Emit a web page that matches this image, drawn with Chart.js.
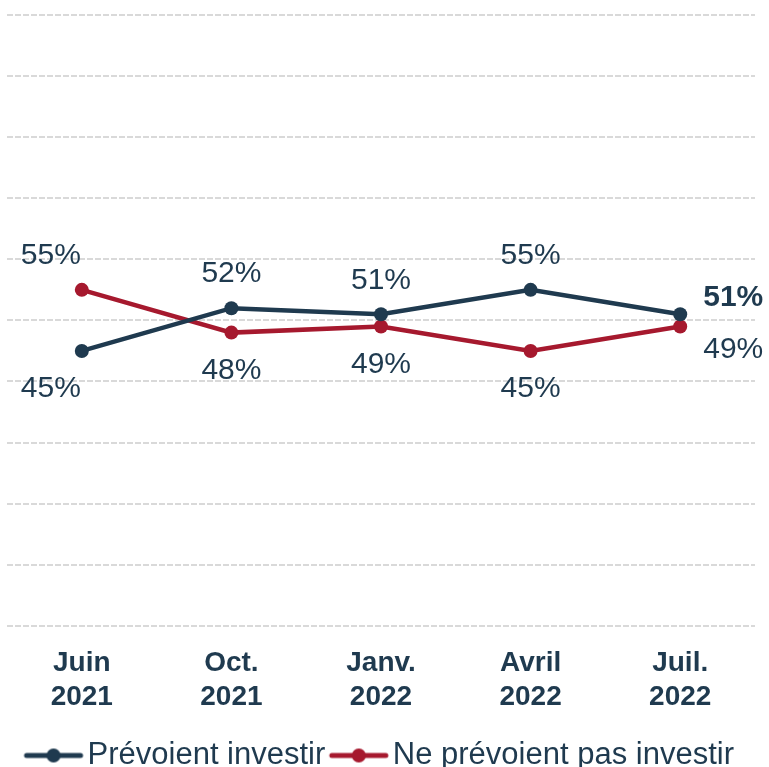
<!DOCTYPE html>
<html>
<head>
<meta charset="utf-8">
<script src="https://cdn.jsdelivr.net/npm/chart.js@4"></script>
<style>
  html, body { margin: 0; padding: 0; background: #fff; }
  #wrap { width: 769px; height: 767px; }
</style>
</head>
<body>
<div id="wrap"><canvas id="trend-chart"></canvas></div>
<script>
const months = ['Juin', 'Oct.', 'Janv.', 'Avril', 'Juil.'];
const years = ['2021', '2021', '2022', '2022', '2022'];
const investir = [45, 52, 51, 55, 51];
const pasInvestir = [55, 48, 49, 45, 49];

const NAVY = '#1f3a4f';
const RED = '#a6192e';
const FONT = '"Liberation Sans", Arial, sans-serif';

// "line with a dot" swatch for the legend; the left 12px stay transparent
// so the swatch sits right against its text
function legendSwatch(color) {
	var c = document.createElement('canvas');
	c.width = 71;
	c.height = 16;
	var g = c.getContext('2d');
	g.strokeStyle = color;
	g.lineWidth = 5;
	g.lineCap = 'round';
	g.beginPath();
	g.moveTo(13, 8);
	g.lineTo(67, 8);
	g.stroke();
	g.fillStyle = color;
	g.beginPath();
	g.arc(40, 8, 7, 0, Math.PI * 2);
	g.fill();
	return c;
}
var swatches = [legendSwatch(NAVY), legendSwatch(RED)];

var valueLabels = {
	id: 'valueLabels',
	afterDatasetsDraw: function(chart) {
		var ctx = chart.ctx;
		var last = months.length - 1;
		ctx.save();
		ctx.fillStyle = NAVY;
		ctx.textBaseline = 'middle';
		for (var i = 0; i <= last; i++) {
			[0, 1].forEach(function(d) {
				var pt = chart.getDatasetMeta(d).data[i];
				var v = chart.data.datasets[d].data[i];
				var other = chart.data.datasets[1 - d].data[i];
				var above = v >= other;
				var x = pt.x;
				var y = pt.y + (above ? -34 : 38);
				ctx.textAlign = 'center';
				if (i === 0) {
					ctx.textAlign = 'right';
					x = pt.x - 1;
				}
				if (i === last) {
					ctx.textAlign = 'left';
					x = pt.x + 23;
					y = pt.y + (above ? -17 : 23);
				}
				ctx.font = ((i === last && d === 0) ? 'bold ' : '') + '30px ' + FONT;
				ctx.fillText(v + '%', x, y);
			});
		}
		ctx.restore();
	}
};

var ctx = document.getElementById('trend-chart');
var trendChart = new Chart(ctx, {
	type: 'line',
	data: {
		labels: months.map(function(m, i) { return [m, years[i]]; }),
		datasets: [{
			label: 'Prévoient investir',
			data: investir,
			borderColor: NAVY,
			backgroundColor: NAVY,
			borderWidth: 4.5,
			pointRadius: 7,
			pointBackgroundColor: NAVY,
			pointBorderWidth: 0
		}, {
			label: 'Ne prévoient pas investir',
			data: pasInvestir,
			borderColor: RED,
			backgroundColor: RED,
			borderWidth: 4.5,
			pointRadius: 7,
			pointBackgroundColor: RED,
			pointBorderWidth: 0
		}]
	},
	options: {
		responsive: true,
		maintainAspectRatio: false,
		animation: false,
		layout: { padding: { left: 5, right: 14, top: 15, bottom: -14 } },
		scales: {
			x: {
				offset: true,
				grid: { display: false },
				border: { display: false },
				afterFit: function(scale) { scale.height += 7; },
				ticks: {
					color: NAVY,
					padding: 13,
					maxRotation: 0,
					font: { family: FONT, size: 28, weight: 'bold', lineHeight: 1.2 }
				}
			},
			y: {
				min: 0,
				max: 100,
				ticks: { display: false, stepSize: 10 },
				grid: {
					color: '#d9d9d9',
					lineWidth: 2,
					drawTicks: false
				},
				border: { display: false, dash: [6, 2] }
			}
		},
		plugins: {
			tooltip: { enabled: false },
			legend: {
				position: 'bottom',
				labels: {
					color: NAVY,
					font: { family: FONT, size: 31 },
					usePointStyle: true,
					pointStyleWidth: 46,
					padding: 6,
					generateLabels: function(chart) {
						var items = Chart.defaults.plugins.legend.labels.generateLabels(chart);
						items.forEach(function(it, k) { it.pointStyle = swatches[k]; });
						return items;
					}
				}
			}
		}
	},
	plugins: [valueLabels]
});
</script>
</body>
</html>
